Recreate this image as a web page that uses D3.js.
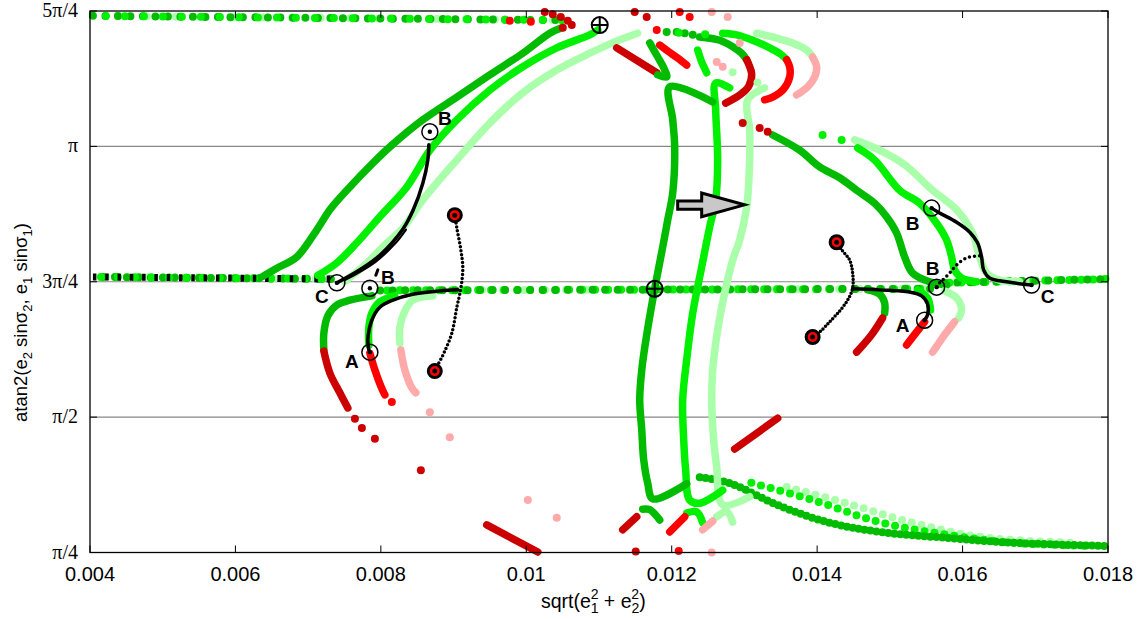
<!DOCTYPE html>
<html><head><meta charset="utf-8">
<script src="https://cdn.jsdelivr.net/npm/d3@7"></script>
<style>body{margin:0;background:#fff}svg{display:block}</style>
</head><body><svg id="c" width="1140" height="619"></svg>
<script>
// x = sqrt(e1^2+e2^2), y = angle expressed in multiples of π
const xTicks = [0.004,0.006,0.008,0.010,0.012,0.014,0.016,0.018];
const xTickLabels = ['0.004','0.006','0.008','0.01','0.012','0.014','0.016','0.018'];
const yTicks = [0.25,0.5,0.75,1,1.25];
const yTickLabels = ['π/4','π/2','3π/4','π','5π/4'];
const yGrid = [0.5,0.75,1];

// sparse dotted rows
const rowTop = [[0.00404,1.241],[0.01053,1.233]];
const rowLeft = [[0.00404,0.759],[0.00737,0.755]];
const rowMid = [[0.00799,0.734],[0.01556,0.737]];
const rowRight = [[0.01575,0.748],[0.0180,0.755]];

// rising branches (left)
const riseDark = [[0.006364,0.759],[0.00657,0.775],[0.006845,0.796],[0.00712,0.846],[0.007299,0.883],[0.007574,0.925],[0.00789,0.969],[0.008124,0.999],[0.008577,1.049],[0.009045,1.091],[0.009498,1.132],[0.009952,1.172],[0.010323,1.209],[0.010488,1.219]];
const riseBright = [[0.007134,0.762],[0.007395,0.785],[0.00767,0.822],[0.007986,0.870],[0.008357,0.925],[0.008674,0.993],[0.009045,1.049],[0.009498,1.104],[0.009952,1.147],[0.010419,1.182],[0.010873,1.206],[0.010983,1.215]];
const riseLight = [[0.007505,0.751],[0.00778,0.781],[0.008055,0.818],[0.008302,0.849],[0.008577,0.901],[0.009045,0.975],[0.009498,1.043],[0.009952,1.099],[0.010419,1.141],[0.010873,1.172],[0.011216,1.193],[0.01153,1.209]];

// left hooks
const cDarkG = [[0.007876,0.724],[0.007574,0.716],[0.007395,0.707],[0.007271,0.687],[0.007216,0.655],[0.007216,0.624]];
const cDarkR = [[0.007216,0.622],[0.007299,0.581],[0.007436,0.545],[0.007546,0.517]];
const cBrightG = [[0.008192,0.724],[0.007986,0.713],[0.007876,0.692],[0.007835,0.666],[0.007835,0.633]];
const cRed = [[0.007849,0.618],[0.007918,0.587],[0.008,0.557],[0.008055,0.541]];
const cLightG = [[0.008715,0.724],[0.00844,0.716],[0.00833,0.696],[0.008261,0.666],[0.008261,0.637]];
const cPink = [[0.008275,0.624],[0.00833,0.587],[0.008426,0.554],[0.008481,0.545]];
const lowDkRedLine = [[0.009457,0.301],[0.010158,0.251]];

// right descending branches
const rdDark = [[0.013388,1.021],[0.013759,0.993],[0.014034,0.962],[0.014309,0.942],[0.014543,0.919],[0.01479,0.895],[0.014955,0.870],[0.015093,0.840],[0.015203,0.796],[0.015313,0.766],[0.015546,0.750],[0.01578,0.744]];
const rdBright = [[0.014557,0.997],[0.01479,0.975],[0.015134,0.919],[0.015409,0.895],[0.015643,0.858],[0.01578,0.827],[0.015849,0.796],[0.01589,0.772],[0.015986,0.757],[0.016192,0.750]];
const rdLight = [[0.014515,1.012],[0.014859,0.993],[0.015203,0.966],[0.015588,0.919],[0.015918,0.883],[0.016137,0.840],[0.016234,0.796],[0.01633,0.766],[0.016509,0.753],[0.016784,0.750]];

// right hooks
const rcDarkG = [[0.014694,0.735],[0.014859,0.727],[0.014928,0.711],[0.014928,0.692]];
const rcDarkR = [[0.0149,0.683],[0.014749,0.652],[0.014543,0.620]];
const rcBrightG = [[0.015381,0.735],[0.015519,0.720],[0.01556,0.698]];
const rcRed = [[0.015478,0.676],[0.015326,0.650],[0.01523,0.633]];
const rcLightG = [[0.015753,0.733],[0.015918,0.720],[0.015986,0.698],[0.015945,0.683]];
const rcPink = [[0.01589,0.676],[0.015753,0.652],[0.015656,0.633],[0.015588,0.620]];

// tall middle branches
const tallDark = [[0.012564,1.082],[0.011973,1.110],[0.012014,1.049],[0.012041,0.999],[0.012014,0.914],[0.011945,0.864],[0.011876,0.814],[0.011766,0.737],[0.011656,0.652],[0.011588,0.587],[0.01156,0.532],[0.011588,0.476],[0.011615,0.421],[0.01167,0.378],[0.011739,0.349],[0.012206,0.377]];
const tallBright = [[0.012797,1.108],[0.012605,1.117],[0.012605,1.067],[0.012632,0.975],[0.012605,0.901],[0.012522,0.851],[0.012412,0.777],[0.012289,0.692],[0.012206,0.606],[0.012151,0.532],[0.012165,0.458],[0.012192,0.402],[0.012247,0.347],[0.012385,0.341],[0.012701,0.365]];
const tallLight = [[0.013278,1.108],[0.013045,1.086],[0.013072,1.030],[0.013072,0.975],[0.013031,0.888],[0.012935,0.827],[0.012838,0.790],[0.012728,0.729],[0.012632,0.661],[0.012564,0.587],[0.01255,0.532],[0.012577,0.458],[0.012619,0.408],[0.012701,0.338],[0.013072,0.353]];
const wigDark = [[0.011601,0.330],[0.011698,0.329],[0.011835,0.310]];
const wigBright = [[0.012206,0.323],[0.012344,0.325],[0.012426,0.305]];
const wigLight = [[0.012619,0.316],[0.012756,0.325],[0.012838,0.306]];
const wigDarkR = [[0.011326,0.292],[0.011519,0.316]];
const wigRed = [[0.011973,0.288],[0.012179,0.316]];
const wigPink = [[0.012426,0.292],[0.012564,0.308]];
const midDkRedLine = [[0.012866,0.441],[0.013457,0.498]];

// bottom-right sparse branches
const brDark = [[0.012385,0.389],[0.012797,0.378],[0.013485,0.336],[0.014172,0.305],[0.014859,0.288],[0.01578,0.277],[0.016687,0.268],[0.017979,0.262]];
const brBright = [[0.013003,0.382],[0.013938,0.347],[0.014859,0.306],[0.01578,0.283],[0.016687,0.268],[0.0178,0.262]];
const brLight = [[0.013581,0.371],[0.014405,0.341],[0.015313,0.305],[0.016234,0.279],[0.017512,0.268]];

// top cluster
const topDkRedLine = [[0.011244,1.182],[0.011794,1.136]];
const topDkGreenC = [[0.011698,1.191],[0.011808,1.165],[0.01189,1.145],[0.011931,1.128],[0.011808,1.132]];
const topRedC = [[0.011835,1.187],[0.011945,1.176],[0.012082,1.163],[0.012206,1.150]];
const topBrightShort = [[0.012357,1.178],[0.012412,1.156],[0.012481,1.136]];
const arcDark = [[0.012385,1.202],[0.01266,1.196],[0.012838,1.184],[0.012962,1.172],[0.013031,1.160]];
const arcDarkRed = [[0.013031,1.160],[0.013058,1.152],[0.0131,1.134],[0.013058,1.111],[0.012935,1.095],[0.012742,1.080]];
const arcBright = [[0.012701,1.209],[0.012893,1.206],[0.013113,1.196],[0.013347,1.182],[0.013512,1.169],[0.013581,1.160]];
const arcRed = [[0.013581,1.160],[0.013622,1.147],[0.013622,1.128],[0.01354,1.106],[0.013388,1.091],[0.013278,1.086]];
const arcLight = [[0.013168,1.209],[0.013443,1.200],[0.013663,1.191],[0.013856,1.178],[0.013938,1.165]];
const arcPink = [[0.013938,1.165],[0.013993,1.147],[0.013966,1.128],[0.013869,1.110],[0.013718,1.095]];

// isolated points
const dkRedDots = [[0.007643,0.497],[0.007739,0.480],[0.007918,0.460],[0.00855,0.402],[0.011505,0.252],[0.012976,1.043],[0.01321,1.034],[0.01332,1.027],[0.011491,1.248],[0.011656,1.239],[0.010254,1.248],[0.010364,1.244],[0.010474,1.239],[0.01057,1.232],[0.010625,1.224],[0.010502,1.219]];
const redDots = [[0.008151,0.528],[0.012096,0.253],[0.01211,1.248],[0.012247,1.239],[0.011794,1.215],[0.009773,1.232],[0.010062,1.230]];
const pinkDots = [[0.008674,0.509],[0.008948,0.463],[0.010021,0.347],[0.010419,0.314],[0.01255,0.250],[0.01255,1.248],[0.01277,1.239],[0.012935,1.191],[0.012619,1.156],[0.012701,1.147]];
const greenDots = [[0.011931,1.211],[0.012069,1.211],[0.012179,1.209],[0.012289,1.206]];
const brightDots = [[0.014075,1.021],[0.014337,1.012],[0.012097,1.210],[0.012460,1.207]];
const lightDots = [[0.012838,1.137],[0.01318,1.118]];

// black trajectories
const blkCB = [[0.007395,0.748],[0.007711,0.772],[0.007986,0.799],[0.008302,0.847],[0.00844,0.881],[0.008577,0.932],[0.008646,0.975],[0.00866,1.003]];
const blkCB2 = [[0.007505,0.753],[0.007918,0.786],[0.008192,0.820],[0.008344,0.846]];
const blkA = [[0.007835,0.624],[0.007821,0.642],[0.007876,0.679],[0.007986,0.703],[0.008165,0.716],[0.00844,0.727],[0.008811,0.733],[0.009058,0.735]];
const blkV = [[0.009017,0.873],[0.009045,0.849],[0.0091,0.809],[0.009127,0.775],[0.0091,0.738],[0.009045,0.703],[0.008976,0.655],[0.008866,0.618],[0.00877,0.593],[0.008742,0.585]];
const blkSmall = [[0.007931,0.762],[0.007959,0.772]];
const blkR1 = [[0.014268,0.823],[0.014337,0.809],[0.014447,0.790],[0.014488,0.766],[0.014488,0.738],[0.014419,0.716],[0.014309,0.696],[0.014172,0.676],[0.014034,0.657],[0.013938,0.648]];
const blkRA = [[0.014488,0.737],[0.014859,0.735],[0.015271,0.731],[0.015436,0.724],[0.015519,0.709],[0.015519,0.689],[0.015478,0.679]];
const blkBC = [[0.015574,0.886],[0.015684,0.877],[0.015918,0.860],[0.016096,0.842],[0.016206,0.822],[0.016261,0.796],[0.016289,0.772],[0.016371,0.757],[0.016605,0.750],[0.016949,0.744]];
const blkB2 = [[0.015684,0.748],[0.015821,0.766],[0.015918,0.781],[0.016055,0.794],[0.016234,0.798]];

// markers
const openMarks = [[0.007395,0.748],[0.007849,0.738],[0.008674,1.027],[0.007849,0.620],[0.015574,0.886],[0.015643,0.740],[0.016949,0.744],[0.015478,0.679]];
const targetMarks = [[0.009017,0.873],[0.008742,0.585],[0.014268,0.823],[0.013938,0.648]];
const plusMarks = [[0.01101,1.224],[0.011766,0.737]];
const pointLabels = ['B','B','C','A','B','B','C','A'];
const pointLabelPos = [[0.00888,1.052],[0.008096,0.757],[0.00719,0.722],[0.0076,0.602],[0.015313,0.858],[0.015588,0.775],[0.017168,0.722],[0.015175,0.670]];
const arrowPts = [[0.012082,0.899],[0.012412,0.899],[0.012412,0.914],[0.013003,0.892],[0.012412,0.870],[0.012412,0.884],[0.012082,0.884]];

const C = {dg:'#00bb00', bg:'#00f000', lg:'#aaffaa', dr:'#cc0000', r:'#ff0000', pk:'#ffaaaa', k:'#000'};

const svg = d3.select('#c');
const L=90, R=1108, T=11, B=552.5;
const x = d3.scaleLinear().domain([0.004,0.018]).range([L,R]);
const y = d3.scaleLinear().domain([0.25,1.25]).range([B,T]);
const sans = "'Liberation Sans', Arial, Helvetica, sans-serif";
const serif = "'Liberation Serif', 'Times New Roman', serif";

// grid
svg.append('g').selectAll('line').data(yGrid).join('line')
  .attr('x1',L).attr('x2',R).attr('y1',d=>y(d)).attr('y2',d=>y(d))
  .attr('stroke','#888').attr('stroke-width',1.2);

const lineGen = d3.line().x(d=>x(d[0])).y(d=>y(d[1])).curve(d3.curveCatmullRom.alpha(0.5));
function draw(data,color,w,dash,cap){
  const p = svg.append('path').attr('d',lineGen(data)).attr('fill','none')
    .attr('stroke',color).attr('stroke-width',w)
    .attr('stroke-linecap',cap||'round').attr('stroke-linejoin','round');
  if(dash){p.attr('stroke-dasharray',dash[0]); if(dash[1]!=null)p.attr('stroke-dashoffset',dash[1]);}
  return p;
}
function dots(data,color,r){
  svg.append('g').selectAll('circle').data(data).join('circle')
    .attr('cx',d=>x(d[0])).attr('cy',d=>y(d[1])).attr('r',r||4).attr('fill',color);
}

// sparse rows
draw(rowTop,C.lg,8,['0 29',4]);
draw(rowTop,C.dg,8,['0 12.5',0]);
draw(rowTop,C.bg,8,['0 19',6]);
draw(rowLeft,C.lg,8,['0 21',8]);
draw(rowLeft,C.dg,8,['0 12',2]);
draw(rowLeft,C.bg,8,['0 17',9]);
draw(rowLeft,C.k,7,['3.5 8.8',0],'butt');
draw(rowMid,C.lg,8,['0 21',3]);
draw(rowMid,C.bg,8,['0 13',6]);
draw(rowMid,C.dg,8,['0 12.5',0]);
draw(rowRight,C.lg,8,['0 15',4]);
draw(rowRight,C.bg,8,['0 12',7]);
draw(rowRight,C.dg,8,['0 13',0]);

// bottom-right sparse branches
draw(brLight,C.lg,8,['0 10',0]);
draw(brBright,C.bg,8,['0 10',3]);
draw(brDark,C.dg,8,['0 6',0]);

// dense branches
[[riseLight,C.lg],[riseBright,C.bg],[riseDark,C.dg],
 [tallLight,C.lg],[tallBright,C.bg],[tallDark,C.dg],
 [rdLight,C.lg],[rdBright,C.bg],[rdDark,C.dg],
 [cLightG,C.lg],[cPink,C.pk],[cBrightG,C.bg],[cRed,C.r],[cDarkG,C.dg],[cDarkR,C.dr],
 [rcLightG,C.lg],[rcPink,C.pk],[rcBrightG,C.bg],[rcRed,C.r],[rcDarkG,C.dg],[rcDarkR,C.dr],
 [wigDark,C.dg],[wigBright,C.bg],[wigLight,C.lg],[wigDarkR,C.dr],[wigRed,C.r],[wigPink,C.pk],
 [midDkRedLine,C.dr],[lowDkRedLine,C.dr],
 [topDkRedLine,C.dr],[topDkGreenC,C.dg],[topRedC,C.r],[topBrightShort,C.bg],
 [arcLight,C.lg],[arcPink,C.pk],[arcBright,C.bg],[arcRed,C.r],[arcDark,C.dg],[arcDarkRed,C.dr]
].forEach(([d,c])=>draw(d,c,7.5));

dots(dkRedDots,C.dr); dots(redDots,C.r); dots(pinkDots,C.pk);
dots(greenDots,C.dg); dots(brightDots,C.bg); dots(lightDots,C.lg);

// black trajectories
draw(blkCB,C.k,3.5); draw(blkCB2,C.k,2.2);
draw(blkA,C.k,3.5);
draw(blkV,C.k,3.5,['0 4']);
draw(blkSmall,C.k,3);
draw(blkR1,C.k,3.5,['0 3.5']);
draw(blkRA,C.k,3.5);
draw(blkBC,C.k,3.5);
draw(blkB2,C.k,3.5,['0 5']);

// markers
const om = svg.append('g').selectAll('g').data(openMarks).join('g')
  .attr('transform',d=>`translate(${x(d[0])},${y(d[1])})`);
om.append('circle').attr('r',8).attr('fill','none').attr('stroke','#000').attr('stroke-width',1.5);
om.append('circle').attr('r',2.2).attr('fill','#000');

const tm = svg.append('g').selectAll('g').data(targetMarks).join('g')
  .attr('transform',d=>`translate(${x(d[0])},${y(d[1])})`);
tm.append('circle').attr('r',6.5).attr('fill','#ff0000').attr('stroke','#000').attr('stroke-width',3);
tm.append('circle').attr('r',2.5).attr('fill','#000');

const pm = svg.append('g').selectAll('g').data(plusMarks).join('g')
  .attr('transform',d=>`translate(${x(d[0])},${y(d[1])})`);
pm.append('circle').attr('r',8).attr('fill','none').attr('stroke','#000').attr('stroke-width',2);
pm.append('path').attr('d','M-8,0H8M0,-8V8').attr('stroke','#000').attr('stroke-width',2);

svg.append('g').selectAll('text').data(pointLabels).join('text')
  .attr('x',(d,i)=>x(pointLabelPos[i][0])).attr('y',(d,i)=>y(pointLabelPos[i][1]))
  .attr('text-anchor','middle').attr('dominant-baseline','central')
  .attr('font-family',sans).attr('font-weight','bold').attr('font-size',19).text(d=>d);

// arrow
svg.append('path').attr('d',d3.line().x(d=>x(d[0])).y(d=>y(d[1])).curve(d3.curveLinearClosed)(arrowPts))
  .attr('fill','#c8c8c8').attr('stroke','#000').attr('stroke-width',3).attr('stroke-linejoin','miter');

// frame & ticks
svg.append('rect').attr('x',L).attr('y',T).attr('width',R-L).attr('height',B-T)
  .attr('fill','none').attr('stroke','#000').attr('stroke-width',1.3);
const tk = svg.append('g').attr('stroke','#000').attr('stroke-width',1);
xTicks.forEach(v=>{
  tk.append('line').attr('x1',x(v)).attr('x2',x(v)).attr('y1',B).attr('y2',B-7);
  tk.append('line').attr('x1',x(v)).attr('x2',x(v)).attr('y1',T).attr('y2',T+7);
});
yTicks.forEach(v=>{
  tk.append('line').attr('x1',L).attr('x2',L+7).attr('y1',y(v)).attr('y2',y(v));
  tk.append('line').attr('x1',R).attr('x2',R-7).attr('y1',y(v)).attr('y2',y(v));
});
svg.append('g').selectAll('text').data(xTicks).join('text')
  .attr('x',d=>x(d)).attr('y',581).attr('text-anchor','middle')
  .attr('font-family',sans).attr('font-size',20).text((d,i)=>xTickLabels[i]);
svg.append('g').selectAll('text').data(yTicks).join('text')
  .attr('x',78).attr('y',d=>y(d)+6).attr('text-anchor','end')
  .attr('font-family',serif).attr('font-size',20).text((d,i)=>yTickLabels[i]);

// axis titles
const xt = svg.append('text').attr('x',541).attr('y',608).attr('font-family',sans).attr('font-size',19.5);
xt.append('tspan').text('sqrt(e');
xt.append('tspan').attr('font-size',14).attr('dy',5).text('1');
xt.append('tspan').attr('font-size',14).attr('dx',-8).attr('dy',-14).text('2');
xt.append('tspan').attr('dy',9).text(' + e');
xt.append('tspan').attr('font-size',14).attr('dy',5).text('2');
xt.append('tspan').attr('font-size',14).attr('dx',-8).attr('dy',-14).text('2');
xt.append('tspan').attr('dy',9).text(')');

const yt = svg.append('text').attr('transform','translate(27,422) rotate(-90)')
  .attr('font-family',sans).attr('font-size',18.5);
yt.append('tspan').text('atan2(e');
yt.append('tspan').attr('font-size',13).attr('dy',5).text('2');
yt.append('tspan').attr('dy',-5).text(' sinσ');
yt.append('tspan').attr('font-size',13).attr('dy',5).text('2');
yt.append('tspan').attr('dy',-5).text(', e');
yt.append('tspan').attr('font-size',13).attr('dy',5).text('1');
yt.append('tspan').attr('dy',-5).text(' sinσ');
yt.append('tspan').attr('font-size',13).attr('dy',5).text('1');
yt.append('tspan').attr('dy',-5).text(')');
</script></body></html>
